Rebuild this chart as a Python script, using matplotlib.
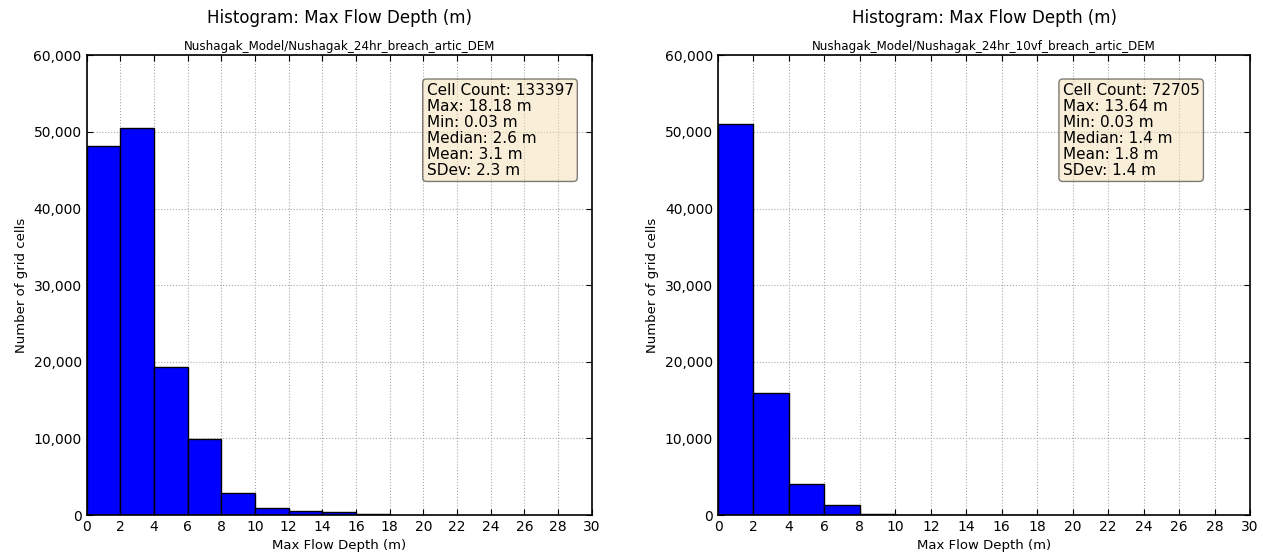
import matplotlib.pyplot as plt
import numpy as np

bin_edges = [0, 2, 4, 6, 8, 10, 12, 14, 16, 18]
counts_24hr = [48200, 50500, 19300, 9900, 2900, 950, 550, 350, 120]
counts_10vf = [51000, 15900, 4000, 1250, 150, 0, 0, 0, 0]

titles = ["Nushagak_Model/Nushagak_24hr_breach_artic_DEM",
          "Nushagak_Model/Nushagak_24hr_10vf_breach_artic_DEM"]
stats_24hr = ["Cell Count: 133397", "Max: 18.18 m", "Min: 0.03 m",
              "Median: 2.6 m", "Mean: 3.1 m", "SDev: 2.3 m"]
stats_10vf = ["Cell Count: 72705", "Max: 13.64 m", "Min: 0.03 m",
              "Median: 1.4 m", "Mean: 1.8 m", "SDev: 1.4 m"]
xticks = list(range(0, 31, 2))
yticks = [0, 10000, 20000, 30000, 40000, 50000, 60000]

fig = plt.figure(figsize=(12.63, 5.58), dpi=100)
ax1 = fig.add_axes([0.0685, 0.077, 0.4, 0.824])
ax2 = fig.add_axes([0.5685, 0.077, 0.4212, 0.824])

panels = [(ax1, counts_24hr, stats_24hr, titles[0], 0.673),
          (ax2, counts_10vf, stats_10vf, titles[1], 0.648)]

for ax, counts, stats, sub, bx in panels:
    ax.bar(bin_edges[:-1], counts, width=2, align='edge',
           color='blue', edgecolor='black', linewidth=1, zorder=2)
    ax.set_xlim(0, 30)
    ax.set_ylim(0, 60000)
    ax.set_xticks(xticks)
    ax.set_yticks(yticks)
    ax.set_yticklabels(["{:,}".format(v) for v in yticks])
    ax.tick_params(direction='in', top=True, right=True, labelsize=10, length=4)
    ax.grid(True, linestyle=':', color='#aaaaaa', linewidth=0.8, zorder=0)
    ax.set_axisbelow(True)
    for s in ax.spines.values():
        s.set_linewidth(1.2)
    ax.set_xlabel("Max Flow Depth (m)", fontsize=9.5, labelpad=4)
    ax.set_ylabel("Number of grid cells", fontsize=9.5, labelpad=4)
    ax.set_title(sub, fontsize=8.6, pad=4)
    ax.text(0.5, 1.062, "Histogram: Max Flow Depth (m)", transform=ax.transAxes,
            ha='center', va='bottom', fontsize=12)
    ax.text(bx, 0.94, "\n".join(stats), transform=ax.transAxes,
            ha='left', va='top', fontsize=11, linespacing=1.08,
            bbox=dict(boxstyle='round,pad=0.25', facecolor='wheat', alpha=0.5,
                      edgecolor='black'))

fig.savefig("out.png", dpi=100)
